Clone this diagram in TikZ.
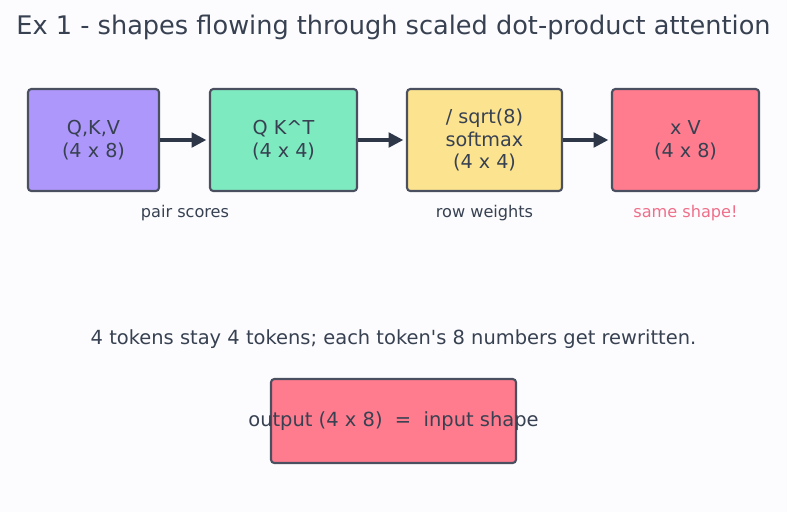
\documentclass[tikz,border=0pt]{standalone}
\usepackage{fontspec}
\setmainfont{DejaVu Sans}
\usetikzlibrary{arrows.meta}
\definecolor{ink}{HTML}{374151}
\definecolor{edge}{HTML}{4A5060}
\definecolor{arrowink}{HTML}{2D3748}
\definecolor{paper}{HTML}{FCFCFE}
\definecolor{qkvfill}{HTML}{AE97FB}
\definecolor{scorefill}{HTML}{7EEAC0}
\definecolor{softfill}{HTML}{FCE38F}
\definecolor{outfill}{HTML}{FF7B8E}
\definecolor{notepink}{HTML}{EF6F8A}
\begin{document}
\begin{tikzpicture}[x=0.75pt,y=-0.75pt,
    shapebox/.style={draw=edge, line width=1.6pt, rounded corners=2.5pt,
      inner sep=0pt, align=center, text=ink,
      font=\fontsize{14.4}{17}\selectfont},
    flow/.style={-{Triangle[length=11pt,width=11pt]}, line width=2.3pt,
      draw=arrowink, shorten >=2pt},
    note/.style={text=ink, font=\fontsize{12.1}{14}\selectfont}]
  \fill[paper] (0,0) rectangle (787,512);
  \useasboundingbox (0,0) rectangle (787,512);
  % title
  \node[text=ink, font=\fontsize{19.2}{23}\selectfont] (title) at (393.5,27)
    {Ex 1 - shapes flowing through scaled dot-product attention};
  % pipeline boxes
  \node[shapebox, fill=qkvfill, minimum width=98.25pt, minimum height=76.5pt]
    (qkv) at (93.5,140) {Q,K,V\\(4 x 8)};
  \node[shapebox, fill=scorefill, minimum width=110.25pt, minimum height=76.5pt]
    (scores) at (283.5,140) {Q K\textasciicircum T\\(4 x 4)};
  \node[shapebox, fill=softfill, minimum width=116.25pt, minimum height=76.5pt]
    (soft) at (484.5,140) {/ sqrt(8)\\softmax\\(4 x 4)};
  \node[shapebox, fill=outfill, minimum width=110.25pt, minimum height=76.5pt]
    (mixed) at (685.5,140) {x V\\(4 x 8)};
  \draw[flow] (qkv) -- (scores);
  \draw[flow] (scores) -- (soft);
  \draw[flow] (soft) -- (mixed);
  % notes under the row
  \node[note] (pairnote) at (185,213) {pair scores};
  \node[note] (rownote) at (484.5,213) {row weights};
  \node[note, text=notepink] (samenote) at (685.5,213) {same shape!};
  \node[text=ink, font=\fontsize{14.6}{17}\selectfont] (summary) at (393.5,339)
    {4 tokens stay 4 tokens; each token\textquotesingle s 8 numbers get rewritten.};
  % result box
  \node[shapebox, fill=outfill, minimum width=183.75pt, minimum height=63pt,
    font=\fontsize{14.6}{17}\selectfont] (result) at (393.5,421)
    {\makebox[0pt]{output (4 x 8) \ = \ input shape}};
\end{tikzpicture}
\end{document}
